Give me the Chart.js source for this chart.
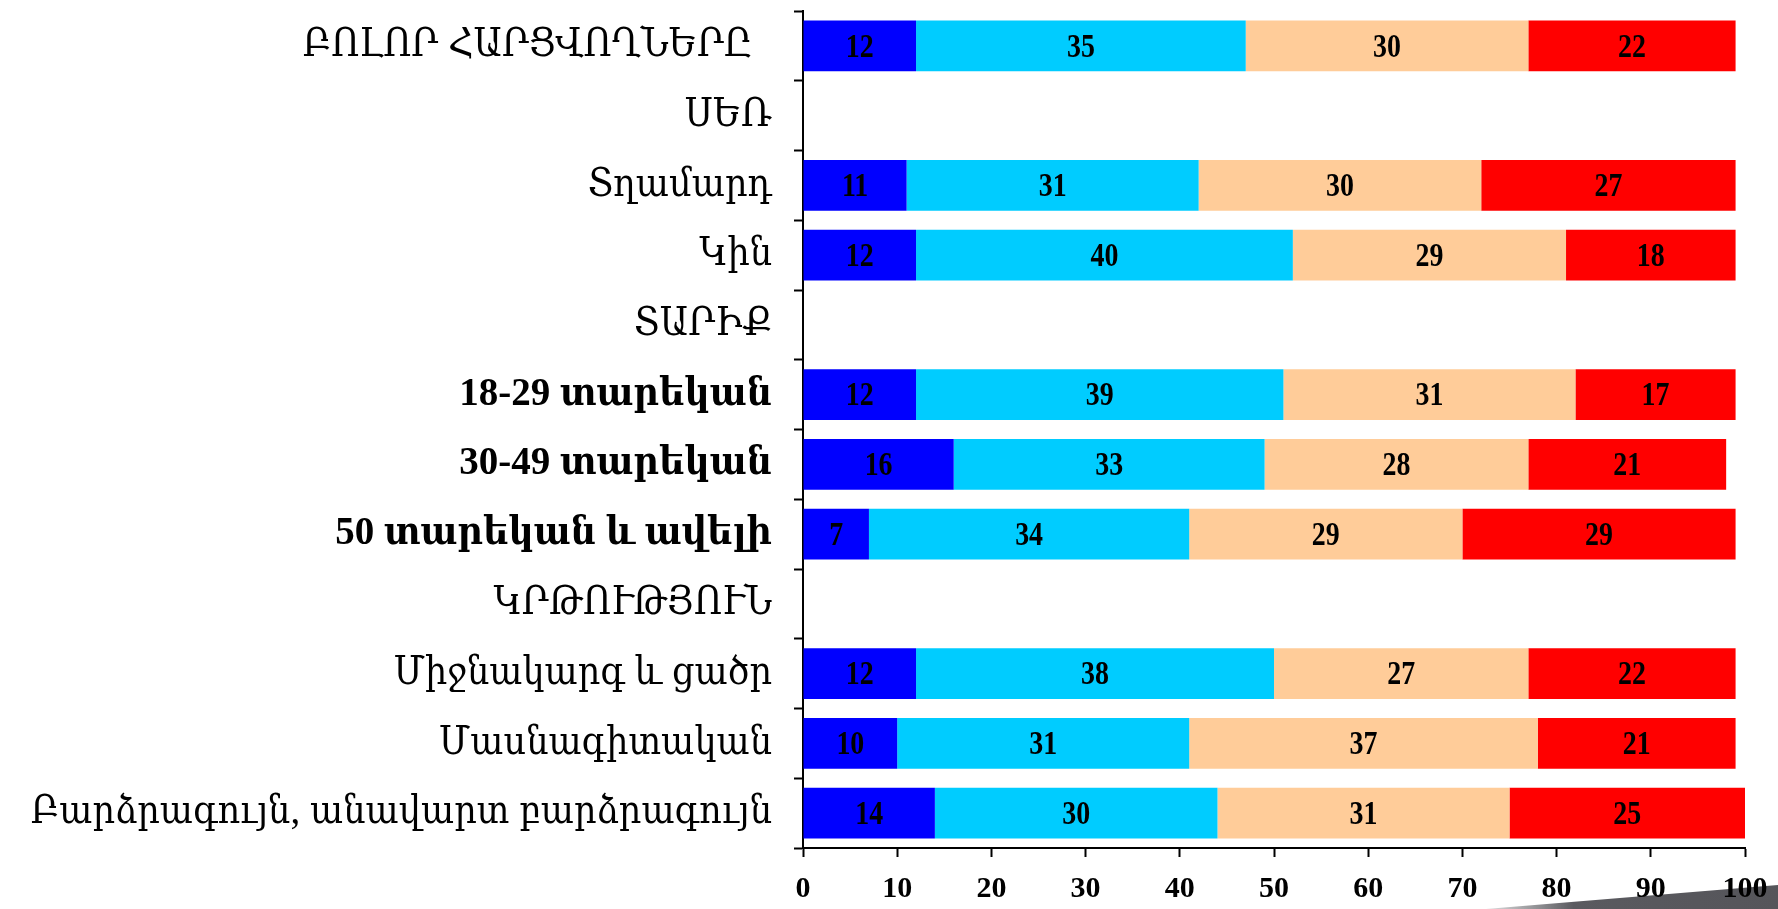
<!DOCTYPE html>
<html>
<head>
<meta charset="utf-8">
<script src="https://cdn.jsdelivr.net/npm/chart.js@4/dist/chart.umd.min.js"></script>
<style>
  html, body { margin: 0; padding: 0; background: #fff; }
  #wrap { width: 1778px; height: 909px; }
</style>
</head>
<body>
<div id="wrap"><canvas id="chart" width="1778" height="909"></canvas></div>
<script>
'use strict';

// ── Data ──────────────────────────────────────────────────
const categories = [
  'ԲՈԼՈՐ ՀԱՐՑՎՈՂՆԵՐԸ  ',
  'ՍԵՌ',
  'Տղամարդ',
  'Կին',
  'ՏԱՐԻՔ',
  '18-29 տարեկան',
  '30-49 տարեկան',
  '50 տարեկան և ավելի',
  'ԿՐԹՈՒԹՅՈՒՆ',
  'Միջնակարգ և ցածր',
  'Մասնագիտական',
  'Բարձրագույն, անավարտ բարձրագույն'
];
const boldRows = [5, 6, 7];

const seriesA = [12, null, 11, 12, null, 12, 16, 7, null, 12, 10, 14];
const seriesB = [35, null, 31, 40, null, 39, 33, 34, null, 38, 31, 30];
const seriesC = [30, null, 30, 29, null, 31, 28, 29, null, 27, 37, 31];
const seriesD = [22, null, 27, 18, null, 17, 21, 29, null, 22, 21, 25];

const colors = ['#0000FF', '#00CCFF', '#FFCC99', '#FF0000'];
const xTicks = [0, 10, 20, 30, 40, 50, 60, 70, 80, 90, 100];

const SERIF = "'Liberation Serif', 'DejaVu Serif Condensed', 'DejaVu Serif', serif";

// ── value labels inside segments (condensed like the original) ──
const valueLabels = {
  id: 'valueLabels',
  afterDatasetsDraw(chart) {
    const ctx = chart.ctx;
    chart.data.datasets.forEach((ds, di) => {
      const meta = chart.getDatasetMeta(di);
      meta.data.forEach((bar, i) => {
        const v = ds.data[i];
        if (v == null) return;
        const { x, y } = bar.getCenterPoint();
        ctx.save();
        ctx.translate(x, y + 2);
        ctx.scale(0.82, 1);
        ctx.font = 'bold 34px ' + SERIF;
        ctx.fillStyle = '#000';
        ctx.textAlign = 'center';
        ctx.textBaseline = 'middle';
        ctx.fillText(String(v), 0, 0);
        ctx.restore();
      });
    });
  }
};

// ── grey wedge in the bottom right corner ─────────────────
const cornerWedge = {
  id: 'cornerWedge',
  beforeDraw(chart) {
    const ctx = chart.ctx;
    const w = chart.width, h = chart.height;
    const g = ctx.createLinearGradient(w - 292, 0, w, 0);
    g.addColorStop(0, 'rgba(90,90,95,0.2)');
    g.addColorStop(0.3, '#5a5a5f');
    g.addColorStop(1, '#55555a');
    ctx.save();
    ctx.fillStyle = g;
    ctx.beginPath();
    ctx.moveTo(w - 292, h);
    ctx.lineTo(w, h - 24);
    ctx.lineTo(w, h);
    ctx.closePath();
    ctx.fill();
    ctx.restore();
  }
};

const mk = (data, i) => ({
  data,
  backgroundColor: colors[i],
  borderWidth: 0,
  categoryPercentage: 1,
  barPercentage: 0.73
});

new Chart(document.getElementById('chart'), {
  type: 'bar',
  data: {
    labels: categories,
    datasets: [mk(seriesA, 0), mk(seriesB, 1), mk(seriesC, 2), mk(seriesD, 3)]
  },
  plugins: [cornerWedge, valueLabels],
  options: {
    indexAxis: 'y',
    responsive: false,
    animation: false,
    layout: { padding: { top: 11, right: 33, bottom: 0, left: 0 } },
    plugins: {
      legend: { display: false },
      tooltip: { enabled: false }
    },
    scales: {
      x: {
        stacked: true,
        min: 0,
        max: 100,
        afterBuildTicks(scale) { scale.ticks = xTicks.map(v => ({ value: v })); },
        afterFit(scale) { scale.height = 61; scale.paddingRight = 0; scale.paddingLeft = 0; },
        border: { color: '#000', width: 2 },
        grid: { drawOnChartArea: false, drawTicks: true, tickLength: 9, color: '#000', tickWidth: 2 },
        ticks: {
          color: '#000',
          padding: 14,
          maxRotation: 0,
          font: { family: SERIF, size: 30, weight: 'bold' }
        }
      },
      y: {
        stacked: true,
        afterFit(scale) { scale.width = 803; scale.paddingTop = 0; scale.paddingBottom = 0; },
        border: { color: '#000', width: 2 },
        grid: { offset: true, drawOnChartArea: false, drawTicks: true, tickLength: 9, color: '#000', tickWidth: 2 },
        ticks: {
          color: '#000',
          padding: 22,
          autoSkip: false,
          font: ctx => ({
            family: SERIF,
            size: 39,
            weight: boldRows.includes(ctx.index) ? 'bold' : 'normal'
          })
        }
      }
    }
  }
});
</script>
</body>
</html>
